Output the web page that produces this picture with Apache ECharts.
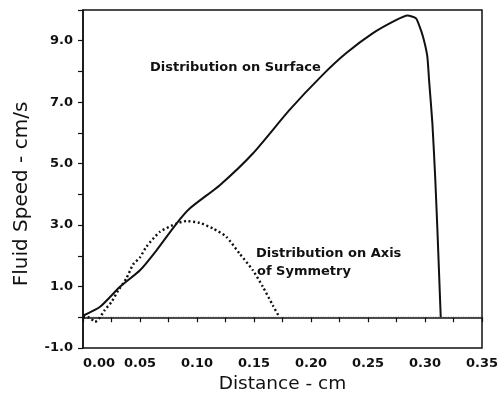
<!DOCTYPE html>
<html>
<head>
<meta charset="utf-8">
<script src="https://cdn.jsdelivr.net/npm/echarts@6/dist/echarts.min.js"></script>
<style>
html,body{margin:0;padding:0;background:#fff;}
#c{width:504px;height:400px;}
</style>
</head>
<body>
<div id="c"></div>
<script>
// Distribution on Surface (distance cm, speed cm/s)
const surfaceX = [0, 0.015, 0.0324, 0.05, 0.0645, 0.082, 0.0936, 0.12, 0.149, 0.181, 0.210, 0.2307, 0.254, 0.2745, 0.2847, 0.292, 0.2949, 0.2985, 0.302, 0.3036, 0.3065, 0.309, 0.311, 0.3138];
const surfaceY = [0.05, 0.34, 0.99, 1.53, 2.18, 3.05, 3.54, 4.30, 5.33, 6.74, 7.88, 8.59, 9.24, 9.67, 9.82, 9.73, 9.50, 9.10, 8.50, 7.70, 6.30, 4.50, 2.73, 0.0];
// Distribution on Axis of Symmetry
const axisX = [0, 0.005, 0.0105, 0.014, 0.019, 0.025, 0.031, 0.038, 0.044, 0.05, 0.0557, 0.0674, 0.082, 0.0907, 0.1024, 0.114, 0.1257, 0.1374, 0.149, 0.1578, 0.1665, 0.1723];
const axisY = [0, 0.0, -0.15, -0.05, 0.23, 0.5, 0.88, 1.26, 1.72, 1.95, 2.3, 2.78, 3.05, 3.13, 3.07, 2.89, 2.62, 2.07, 1.53, 0.99, 0.39, 0.0];
// zero baseline
const zeroX = [0, 0.35];
const zeroY = [0, 0];

const xMin = 0, xMax = 0.35, xStep = 0.025;
const yMin = -1, yMax = 10, yStep = 1;

const zip = (a, b) => a.map((v, i) => [v, b[i]]);

const chart = echarts.init(document.getElementById('c'), null, {renderer: 'canvas'});
const ink = '#111';
chart.setOption({
  animation: false,
  backgroundColor: '#fff',
  grid: {left: 83, right: 22, top: 10, bottom: 52, show: true, borderColor: ink, borderWidth: 1.5, backgroundColor: 'transparent'},
  xAxis: {
    type: 'value', min: xMin, max: xMax, interval: xStep,
    name: 'Distance - cm', nameLocation: 'middle', nameGap: 26,
    nameTextStyle: {fontFamily: 'DejaVu Sans', fontSize: 18.5, color: ink},
    axisLine: {show: true, lineStyle: {color: ink, width: 1.5}},
    axisTick: {show: true, inside: false, length: 5, lineStyle: {color: ink, width: 1.2}},
    splitLine: {show: false},
    axisLabel: {
      margin: 9, color: ink, fontFamily: 'DejaVu Sans', fontWeight: 'bold', fontSize: 13,
      alignMinLabel: 'left', showMinLabel: true, showMaxLabel: true,
      formatter: v => (Math.round(v * 1000) % 50 === 0) ? v.toFixed(2) : ''
    }
  },
  yAxis: {
    type: 'value', min: yMin, max: yMax, interval: yStep,
    axisLine: {show: true, lineStyle: {color: ink, width: 1.5}},
    axisTick: {show: true, inside: false, length: 5, lineStyle: {color: ink, width: 1.2}},
    splitLine: {show: false},
    axisLabel: {
      margin: 10, color: ink, fontFamily: 'DejaVu Sans', fontWeight: 'bold', fontSize: 13,
      formatter: v => (Math.abs(Math.round(v)) % 2 === 1) ? v.toFixed(1) : ''
    }
  },
  series: [
    {
      name: 'zero', type: 'line', data: zip(zeroX, zeroY), symbol: 'none',
      lineStyle: {color: '#444', width: 1, type: [1, 1.5]}, z: 1
    },
    {
      name: 'Distribution on Surface', type: 'line', data: zip(surfaceX, surfaceY),
      symbol: 'none', smooth: 0.2,
      lineStyle: {color: ink, width: 2}, z: 3
    },
    {
      name: 'Distribution on Axis of Symmetry', type: 'line', data: zip(axisX, axisY),
      symbol: 'none', smooth: 0.2,
      lineStyle: {color: ink, width: 2.4, type: [2, 2.6]}, z: 2
    }
  ],
  graphic: [
    {type: 'text', x: 22, y: 194, rotation: Math.PI / 2,
     style: {text: 'Fluid Speed - cm/s', fill: ink, font: '20px "DejaVu Sans"', textAlign: 'center', textVerticalAlign: 'middle'}},
    {type: 'text', x: 150, y: 68,
     style: {text: 'Distribution on Surface', fill: ink, font: 'bold 13px "DejaVu Sans"', textAlign: 'left', textVerticalAlign: 'middle'}},
    {type: 'text', x: 256, y: 254,
     style: {text: 'Distribution on Axis', fill: ink, font: 'bold 13px "DejaVu Sans"', textAlign: 'left', textVerticalAlign: 'middle'}},
    {type: 'text', x: 257, y: 272,
     style: {text: 'of Symmetry', fill: ink, font: 'bold 13px "DejaVu Sans"', textAlign: 'left', textVerticalAlign: 'middle'}}
  ]
});
</script>
</body>
</html>
